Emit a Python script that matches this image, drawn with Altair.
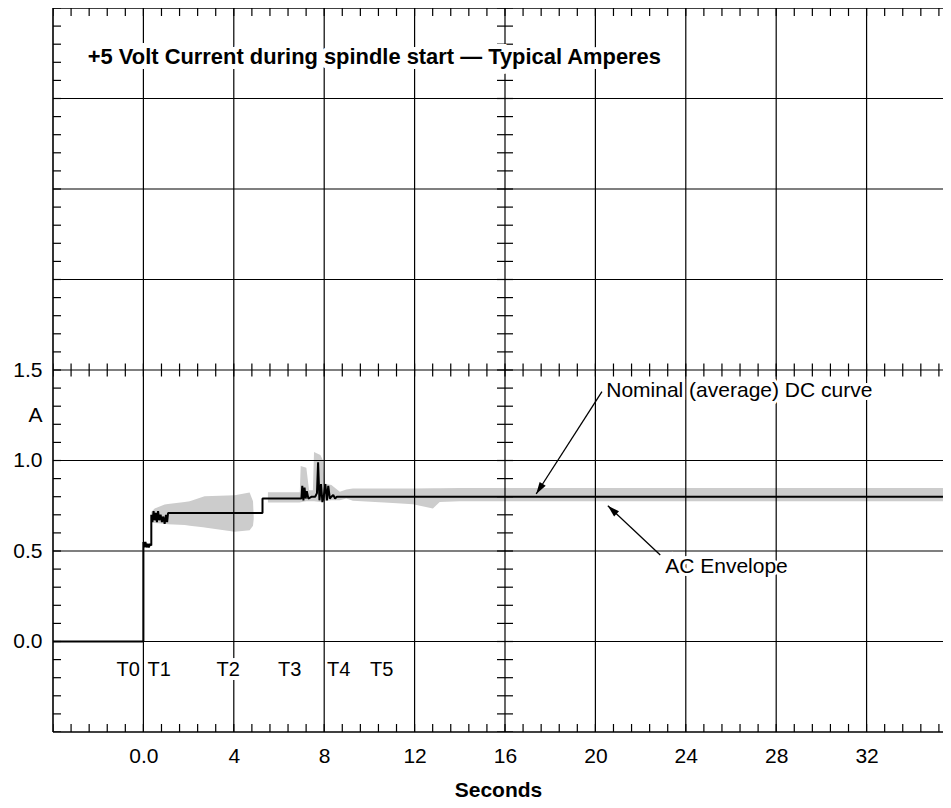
import math
import altair as alt
import pandas as pd

FONT = "Liberation Sans"

# ---------------- frame / axes ----------------
PX_PER_S = 22.6
PLOT_W, PLOT_H = 890, 724
X_DOMAIN = [-4.0, round(-4.0 + PLOT_W / PX_PER_S, 3)]
Y_DOMAIN = [-0.5, 3.5]

x_label_values = [0, 4, 8, 12, 16, 20, 24, 28, 32]
x_grid_values = [0, 4, 8, 12, 16, 20, 24, 28, 32]
x_frame_values = [-4.0]
y_label_values = [0.0, 0.5, 1.0, 1.5, 1.25]      # 1.25 carries the unit "A"
y_grid_values = [0.0, 0.5, 1.0, 1.5, 2.0, 2.5, 3.0]
y_frame_values = [-0.5, 3.5]
x_minor_ticks = [round(-4 + 0.8 * i, 2) for i in range(50) if -4 + 0.8 * i <= X_DOMAIN[1]]
y_minor_ticks = [round(-0.5 + 0.1 * i, 2) for i in range(41)]

# ---------------- nominal (average) DC curve ----------------
dc_seconds = [-4.0, 0.0, 0.0, 0.04, 0.09, 0.14, 0.19, 0.24, 0.29, 0.35, 0.35,
              0.40, 0.45, 0.50, 0.55, 0.60, 0.65, 0.70, 0.76, 0.82, 0.88,
              0.94, 1.00, 1.05, 1.09, 5.27, 5.27, 6.99, 7.03, 7.08, 7.13,
              7.18, 7.23, 7.30, 7.45, 7.60, 7.68, 7.73, 7.79, 7.86, 7.92,
              7.98, 8.05, 8.12, 8.18, 8.25, 8.32, 8.40, 8.48, 8.56, 8.62,
              8.90, 35.38]
dc_amps = [0.0, 0.0, 0.55, 0.52, 0.55, 0.52, 0.54, 0.52, 0.54, 0.53, 0.70,
           0.66, 0.72, 0.67, 0.71, 0.66, 0.72, 0.67, 0.70, 0.66, 0.69,
           0.65, 0.70, 0.66, 0.71, 0.71, 0.79, 0.79, 0.86, 0.78, 0.85,
           0.79, 0.83, 0.79, 0.80, 0.80, 0.82, 0.99, 0.78, 0.87, 0.77,
           0.80, 0.87, 0.78, 0.86, 0.79, 0.80, 0.81, 0.79, 0.80, 0.80,
           0.80, 0.80]

# ---------------- AC envelope (two shaded pieces) ----------------
env1_seconds = [0.35, 0.50, 0.94, 1.09, 1.83, 2.05, 2.64, 2.71, 4.04, 4.70, 4.85, 4.88]
env1_low = [0.661, 0.655, 0.650, 0.648, 0.643, 0.640, 0.631, 0.630, 0.606, 0.615, 0.640, 0.675]
env1_high = [0.716, 0.735, 0.757, 0.760, 0.771, 0.775, 0.800, 0.803, 0.808, 0.823, 0.775, 0.690]

env2_seconds = [5.51, 6.92, 6.96, 7.21, 7.33, 7.50, 7.55, 7.83, 7.95, 8.02, 8.32,
                8.69, 8.98, 9.27, 11.04, 11.93, 12.81, 13.11, 14.0, 35.38]
env2_low = [0.768, 0.768, 0.770, 0.775, 0.775, 0.775, 0.775, 0.771, 0.775, 0.777, 0.780,
            0.780, 0.790, 0.777, 0.765, 0.758, 0.735, 0.771, 0.775, 0.775]
env2_high = [0.825, 0.825, 0.970, 0.960, 0.836, 0.836, 1.047, 1.030, 1.000, 0.873, 0.864,
             0.827, 0.840, 0.845, 0.845, 0.845, 0.846, 0.847, 0.848, 0.848]

# ---------------- texts ----------------
title_text = "+5 Volt Current during spindle start \u2014 Typical Amperes"
title_pos = (-2.46, 3.19)

phase_labels = ["T0", "T1", "T2", "T3", "T4", "T5"]
phase_seconds = [-0.67, 0.70, 3.75, 6.47, 8.64, 10.54]
phase_level = -0.19
phase_halo = [False, False, True, False, False, False]

note_texts = ["Nominal (average) DC curve", "AC Envelope"]
note_x = [20.48, 23.09]
note_y = [1.352, 0.376]
arrow_tail_x = [20.29, 22.87]
arrow_tail_y = [1.380, 0.478]
arrow_tip_x = [17.38, 20.55]
arrow_tip_y = [0.815, 0.750]

# ---------------- tables ----------------
px_per_a = PLOT_H / (Y_DOMAIN[1] - Y_DOMAIN[0])

dc_df = pd.DataFrame({"idx": range(len(dc_seconds)), "x": dc_seconds, "y": dc_amps})
env_df = pd.concat([
    pd.DataFrame({"seg": "a", "x": env1_seconds, "lo": env1_low, "hi": env1_high}),
    pd.DataFrame({"seg": "b", "x": env2_seconds, "lo": env2_low, "hi": env2_high}),
])
vt_rows = []
for yv, s in [(Y_DOMAIN[0], 16), (Y_DOMAIN[1], 16), (1.5, 13)]:
    for xv in x_minor_ticks:
        vt_rows.append({"x": xv, "y": yv, "s": s})
vt_df = pd.DataFrame(vt_rows)
ht_rows = []
for xv, s in [(X_DOMAIN[0], 16), (16, 16)]:
    for yv in y_minor_ticks:
        ht_rows.append({"x": xv, "y": yv, "s": s})
ht_df = pd.DataFrame(ht_rows)

angles = []
for tx, ty, hx, hy in zip(arrow_tail_x, arrow_tail_y, arrow_tip_x, arrow_tip_y):
    dx = (hx - tx) * PX_PER_S
    dy = -(hy - ty) * px_per_a
    angles.append((math.degrees(math.atan2(dx, -dy)) + 360) % 360)
arrow_df = pd.DataFrame({"x": arrow_tail_x, "y": arrow_tail_y, "x2": arrow_tip_x,
                         "y2": arrow_tip_y, "ang": angles})
note_df = pd.DataFrame({"x": note_x, "y": note_y, "t": note_texts})
phase_df = pd.DataFrame({"x": phase_seconds, "y": phase_level, "t": phase_labels, "halo": phase_halo})
title_df = pd.DataFrame({"x": [title_pos[0]], "y": [title_pos[1]], "t": [title_text]})

xs = alt.Scale(domain=X_DOMAIN, nice=False, zero=False)
ys = alt.Scale(domain=Y_DOMAIN, nice=False, zero=False)

x_axis = alt.Axis(values=x_label_values, labelExpr="datum.value == 0 ? '0.0' : datum.label",
                  grid=False, ticks=False, domain=False, labelFont=FONT, labelFontSize=21,
                  labelColor="black", labelPadding=13, labelFlush=False, title="Seconds",
                  titleFont=FONT, titleFontSize=21, titleFontWeight="bold", titleColor="black",
                  titlePadding=13)
y_axis = alt.Axis(values=y_label_values,
                  labelExpr="datum.value == 1.25 ? 'A' : format(datum.value, '.1f')",
                  grid=False, ticks=False, domain=False, labelFont=FONT, labelFontSize=21,
                  labelColor="black", labelPadding=11, labelFlush=False, title=None)


def xq(field):
    return alt.X(field, type="quantitative", scale=xs, axis=x_axis)


def yq(field):
    return alt.Y(field, type="quantitative", scale=ys, axis=y_axis)


envelope = alt.Chart(env_df).mark_area(color="#cccccc", opacity=1).encode(
    x=xq("x"), y=yq("lo"), y2="hi", detail="seg:N")

xgrid = alt.Chart(pd.DataFrame({"v": x_grid_values})).mark_rule(color="black", strokeWidth=1.2).encode(
    x=xq("v"))
ygrid = alt.Chart(pd.DataFrame({"v": y_grid_values})).mark_rule(color="black", strokeWidth=1.2).encode(
    y=yq("v"))
xframe = alt.Chart(pd.DataFrame({"v": x_frame_values})).mark_rule(color="black", strokeWidth=1.6).encode(
    x=xq("v"))
yframe = alt.Chart(pd.DataFrame({"v": y_frame_values})).mark_rule(color="black", strokeWidth=1.6).encode(
    y=yq("v"))

vticks = alt.Chart(vt_df).mark_tick(orient="vertical", thickness=1.2, color="black", clip=True,
                                    opacity=1).encode(
    x=xq("x"), y=yq("y"), size=alt.Size("s:Q", scale=None))
hticks = alt.Chart(ht_df).mark_tick(orient="horizontal", thickness=1.2, color="black", clip=True,
                                    opacity=1).encode(
    x=xq("x"), y=yq("y"), size=alt.Size("s:Q", scale=None))

dc_line = alt.Chart(dc_df).mark_line(color="black", strokeWidth=2, strokeJoin="bevel").encode(
    x=xq("x"), y=yq("y"), order="idx:Q")

arrow_lines = alt.Chart(arrow_df).mark_rule(color="black", strokeWidth=1.3).encode(
    x=xq("x"), y=yq("y"), x2="x2", y2="y2")
arrow_heads = alt.Chart(arrow_df).mark_point(shape="M0,0L-0.3,1L0.3,1Z", filled=True, color="black",
                                             opacity=1, size=576).encode(
    x=xq("x2"), y=yq("y2"), angle=alt.Angle("ang:Q", scale=None))

title_halo = alt.Chart(title_df).mark_text(align="left", baseline="alphabetic", font=FONT,
                                           fontSize=21.9, fontWeight="bold", fill="white",
                                           stroke="white", strokeWidth=10).encode(
    x=xq("x"), y=yq("y"), text="t:N")
title_mark = alt.Chart(title_df).mark_text(align="left", baseline="alphabetic", font=FONT,
                                           fontSize=21.9, fontWeight="bold", color="black").encode(
    x=xq("x"), y=yq("y"), text="t:N")

note_halo = alt.Chart(note_df).mark_text(align="left", baseline="alphabetic", font=FONT,
                                         fontSize=21, fill="white", stroke="white",
                                         strokeWidth=6).encode(x=xq("x"), y=yq("y"), text="t:N")
note_mark = alt.Chart(note_df).mark_text(align="left", baseline="alphabetic", font=FONT,
                                         fontSize=21, color="black").encode(
    x=xq("x"), y=yq("y"), text="t:N")

phase_halo_mark = alt.Chart(phase_df).transform_filter("datum.halo").mark_text(
    align="center", baseline="alphabetic", font=FONT, fontSize=20, fill="white",
    stroke="white", strokeWidth=8).encode(x=xq("x"), y=yq("y"), text="t:N")
phase_mark = alt.Chart(phase_df).mark_text(align="center", baseline="alphabetic", font=FONT,
                                           fontSize=20, color="black").encode(
    x=xq("x"), y=yq("y"), text="t:N")

chart = alt.layer(
    envelope, xgrid, ygrid, xframe, yframe, vticks, hticks,
    title_halo, note_halo, phase_halo_mark,
    dc_line, arrow_lines, arrow_heads,
    title_mark, note_mark, phase_mark,
).properties(
    width=PLOT_W, height=PLOT_H,
    padding={"left": 45, "top": 0, "right": 0, "bottom": 74},
    autosize=alt.AutoSizeParams(type="none"),
    background="white",
).configure_view(strokeWidth=0, stroke=None)

chart.save("out.html", embed_options={"renderer": "svg", "actions": False})
